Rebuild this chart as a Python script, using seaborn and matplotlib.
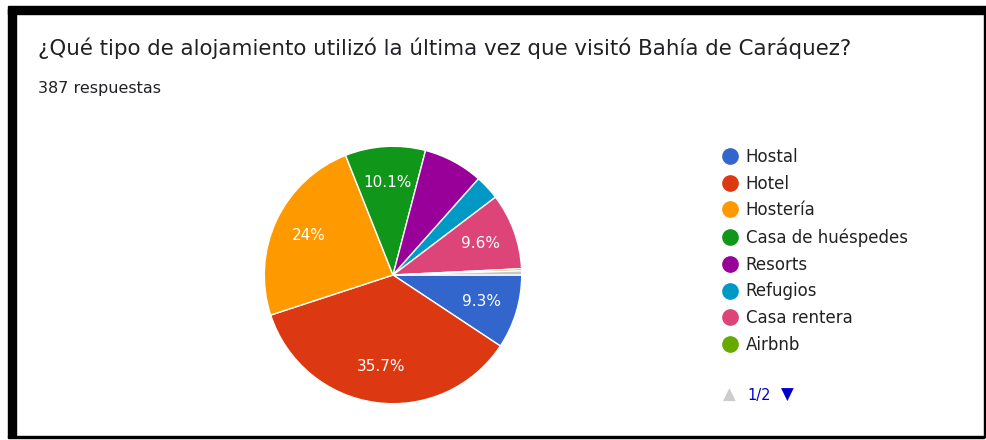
import matplotlib
matplotlib.use('Agg')
import matplotlib.pyplot as plt
from matplotlib.lines import Line2D
from matplotlib.patches import Rectangle
import seaborn as sns

# Respuestas por tipo de alojamiento (387 en total)
categories = ['Hostal', 'Hotel', 'Hostería', 'Casa de huéspedes', 'Resorts',
              'Refugios', 'Casa rentera', 'Airbnb', 'Otros']
counts = [36, 138, 93, 39, 29, 12, 37, 1, 2]
legend_page = categories[:8]   # page 1/2 of the legend
palette = ['#3366cc', '#dc3912', '#ff9900', '#109618', '#990099',
           '#0099c6', '#dd4477', '#66aa00', '#c8c8c8']

title = '¿Qué tipo de alojamiento utilizó la última vez que visitó Bahía de Caráquez?'
subtitle = f'{sum(counts)} respuestas'

sns.set_theme(style='white')
plt.rcParams['font.family'] = ['DejaVu Sans']

W, H = 987, 440
fig = plt.figure(figsize=(W / 100, H / 100), dpi=100)
fig.patch.set_facecolor('white')

# black frame (screenshot border)
fig.patches.append(Rectangle((8 / W, 1 - 14 / H), (W - 8) / W, 8 / H,
                             transform=fig.transFigure, color='black'))
fig.patches.append(Rectangle((8 / W, 3 / H), 8 / W, 1 - 9 / H - 3 / H,
                             transform=fig.transFigure, color='black'))
fig.patches.append(Rectangle((984 / W, 3 / H), 2 / W, 1 - 9 / H - 3 / H,
                             transform=fig.transFigure, color='black'))
fig.patches.append(Rectangle((8 / W, 2 / H), (984 - 8) / W, 2 / H,
                             transform=fig.transFigure, color='black'))

fig.text(38 / W, 1 - 48 / H, title, fontsize=15.4, color='#202124', va='center')
fig.text(38 / W, 1 - 88 / H, subtitle, fontsize=11.5, color='#202124', va='center')

# pie
cx, cy, r = 393, 275, 130
ax = fig.add_axes([(cx - r) / W, (H - cy - r) / H, 2 * r / W, 2 * r / H])


def pct_label(p):
    if p < 9:
        return ''
    s = f'{p:.1f}'
    if s.endswith('.0'):
        s = s[:-2]
    return s + '%'


wedges, texts, autotexts = ax.pie(
    counts, colors=palette, startangle=0, counterclock=False,
    autopct=pct_label, pctdistance=0.72,
    wedgeprops=dict(edgecolor='white', linewidth=1),
    textprops=dict(color='white', fontsize=11))
ax.set_xlim(-1.01, 1.01)
ax.set_ylim(-1.01, 1.01)
ax.axis('off')

# legend (page 1 of 2)
handles = [Line2D([], [], marker='o', linestyle='none', markersize=11,
                  markerfacecolor=palette[i], markeredgecolor=palette[i])
           for i in range(len(legend_page))]
fig.legend(handles, legend_page, loc='upper left',
           bbox_to_anchor=(714 / W, 1 - 141 / H), frameon=False,
           fontsize=12, labelspacing=0.53, handletextpad=0.4,
           handlelength=1.1, borderaxespad=0, labelcolor='#222222')

# pager
fig.text(729 / W, 1 - 395 / H, '▲', fontsize=12, color='#cccccc',
         ha='center', va='center')
fig.text(759 / W, 1 - 395 / H, '1/2', fontsize=10.5, color='#0000cc',
         ha='center', va='center')
fig.text(787 / W, 1 - 395 / H, '▼', fontsize=12, color='#0000cc',
         ha='center', va='center')

fig.savefig('out.png', dpi=100)
